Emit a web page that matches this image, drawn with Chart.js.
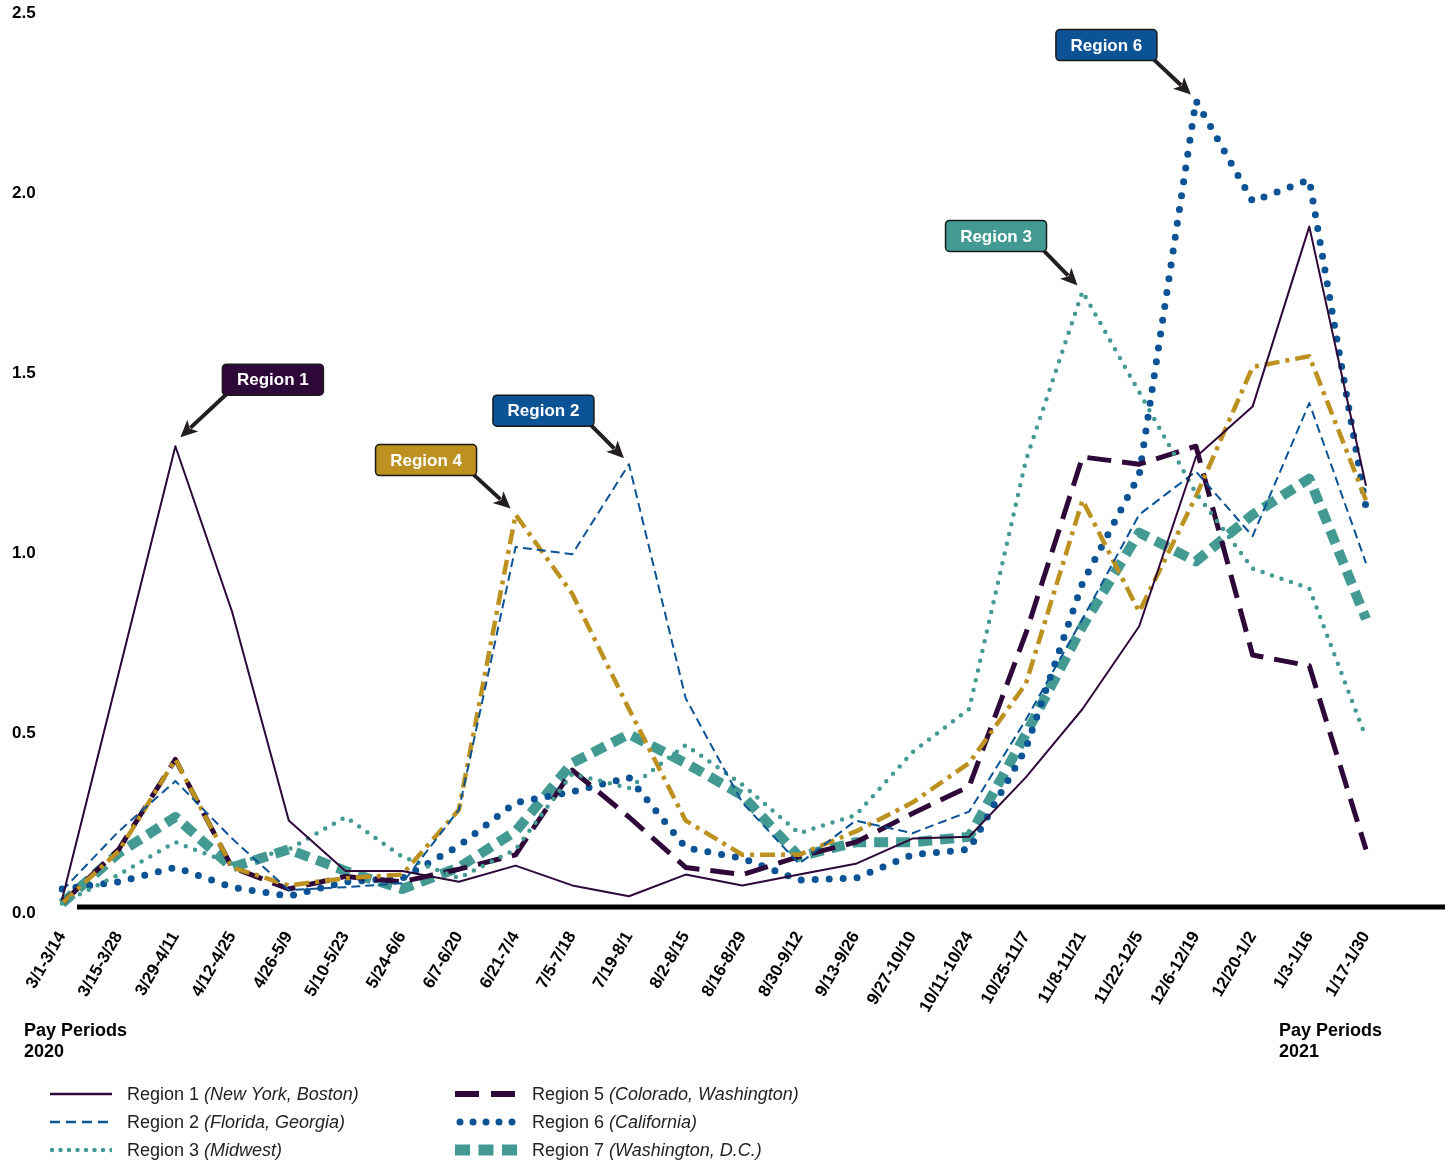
<!DOCTYPE html>
<html>
<head>
<meta charset="utf-8">
<script src="https://cdn.jsdelivr.net/npm/chart.js@4.4.1/dist/chart.umd.min.js"></script>
<style>
  body { margin: 0; background: #fff; font-family: "Liberation Sans", Arial, sans-serif; }
  #wrap { position: relative; width: 1452px; height: 1162px; }
  #wrap canvas { position: absolute; left: 0; top: 0; }
  .pp { position: absolute; font-weight: bold; font-size: 18px; line-height: 21px; color: #000; }
  .leg { position: absolute; height: 20px; font-size: 18px; color: #222; display: flex; align-items: center; white-space: nowrap; }
  .leg svg { margin-right: 15px; }
</style>
</head>
<body>
<div id="wrap">
  <canvas id="myChart" width="1452" height="1162"></canvas>
  <div class="pp" style="left:24px; top:1020px;">Pay Periods<br>2020</div>
  <div class="pp" style="left:1279px; top:1020px;">Pay Periods<br>2021</div>
  <div id="legend"></div>
</div>
<script>
// pay periods (x axis)
var periods = ['3/1-3/14', '3/15-3/28', '3/29-4/11', '4/12-4/25', '4/26-5/9', '5/10-5/23',
  '5/24-6/6', '6/7-6/20', '6/21-7/4', '7/5-7/18', '7/19-8/1', '8/2-8/15', '8/16-8/29',
  '8/30-9/12', '9/13-9/26', '9/27-10/10', '10/11-10/24', '10/25-11/7', '11/8-11/21',
  '11/22-12/5', '12/6-12/19', '12/20-1/2', '1/3-1/16', '1/17-1/30'];

var yTicks = [0, 0.5, 1.0, 1.5, 2.0, 2.5];

var regionNames = ['Region 1', 'Region 2', 'Region 3', 'Region 4', 'Region 5', 'Region 6', 'Region 7'];
var regionPlaces = ['New York, Boston', 'Florida, Georgia', 'Midwest', null, 'Colorado, Washington', 'California', 'Washington, D.C.'];

var region1 = [0.02, 0.65, 1.28, 0.82, 0.24, 0.10, 0.10, 0.07, 0.115, 0.06, 0.03, 0.09, 0.06, 0.09, 0.12, 0.19, 0.195, 0.36, 0.55, 0.78, 1.25, 1.39, 1.89, 1.17];
var region2 = [0.045, 0.21, 0.35, 0.19, 0.047, 0.055, 0.066, 0.27, 1.0, 0.98, 1.23, 0.58, 0.29, 0.12, 0.24, 0.205, 0.265, 0.52, 0.80, 1.09, 1.21, 1.03, 1.40, 0.955];
var region3 = [0.01, 0.09, 0.18, 0.12, 0.16, 0.25, 0.14, 0.08, 0.16, 0.37, 0.33, 0.45, 0.34, 0.205, 0.255, 0.43, 0.55, 1.24, 1.71, 1.43, 1.15, 0.94, 0.885, 0.47];
var region4 = [0.01, 0.155, 0.41, 0.11, 0.06, 0.08, 0.09, 0.27, 1.09, 0.87, 0.55, 0.24, 0.145, 0.145, 0.21, 0.29, 0.40, 0.62, 1.13, 0.82, 1.14, 1.50, 1.53, 1.13];
var region5 = [0.01, 0.16, 0.41, 0.11, 0.05, 0.085, 0.07, 0.105, 0.145, 0.38, 0.25, 0.11, 0.09, 0.14, 0.18, 0.26, 0.335, 0.76, 1.25, 1.23, 1.28, 0.70, 0.67, 0.16];
var region6 = [0.05, 0.07, 0.11, 0.055, 0.03, 0.07, 0.08, 0.17, 0.29, 0.32, 0.36, 0.165, 0.135, 0.075, 0.08, 0.145, 0.16, 0.44, 0.90, 1.20, 2.24, 1.96, 2.02, 1.11];
var region7 = [0.01, 0.15, 0.25, 0.11, 0.16, 0.10, 0.05, 0.11, 0.21, 0.40, 0.48, 0.40, 0.31, 0.14, 0.18, 0.18, 0.195, 0.48, 0.78, 1.04, 0.96, 1.09, 1.19, 0.80];

var PURPLE = '#2e0838';
var BLUE = '#0b5394';
var TEAL = '#429a93';
var GOLD = '#bd911f';
var FONT = '"Liberation Sans", Arial, sans-serif';

// line styles: [color, width, dash, cap]
var styles = [
  [PURPLE, 2, [], 'butt'],
  [BLUE, 2, [9, 5], 'butt'],
  [TEAL, 4.5, [0, 10], 'round'],
  [GOLD, 4.5, [15, 6, 4, 6], 'butt'],
  [PURPLE, 5, [24, 11], 'butt'],
  [BLUE, 7, [0, 14], 'round'],
  [TEAL, 10, [14, 8], 'butt']
];
var series = [region1, region2, region3, region4, region5, region6, region7];

var datasets = series.map(function (d, i) {
  return {
    label: regionNames[i],
    data: d,
    borderColor: styles[i][0],
    borderWidth: styles[i][1],
    borderDash: styles[i][2],
    borderCapStyle: styles[i][3],
    borderJoinStyle: 'round',
    pointRadius: 0,
    tension: 0,
    fill: false
  };
});

// thick black baseline under the data
var baseline = {
  id: 'baseline',
  beforeDatasetsDraw: function (chart) {
    var ctx = chart.ctx, a = chart.chartArea;
    var y = chart.scales.y.getPixelForValue(0);
    ctx.save();
    ctx.strokeStyle = '#000';
    ctx.lineWidth = 5;
    ctx.beginPath();
    ctx.moveTo(a.left + 15, y);
    ctx.lineTo(a.right + 79, y);
    ctx.stroke();
    ctx.restore();
  }
};

// callout boxes with arrows
var callouts = [
  { text: 'Region 1', ds: 0, idx: 2, fill: PURPLE, bx: 47, by: -82, tip: [5, -9], from: 'left' },
  { text: 'Region 4', ds: 3, idx: 8, fill: GOLD, bx: -140, by: -70, tip: [-5, -6], from: 'right' },
  { text: 'Region 2', ds: 1, idx: 10, fill: BLUE, bx: -136, by: -69, tip: [-5, -6], from: 'right' },
  { text: 'Region 3', ds: 2, idx: 18, fill: TEAL, bx: -137, by: -71, tip: [-5, -6], from: 'right' },
  { text: 'Region 6', ds: 5, idx: 20, fill: BLUE, bx: -140, by: -71, tip: [-5, -6], from: 'right' }
];

function drawArrow(ctx, x1, y1, x2, y2) {
  var a = Math.atan2(y2 - y1, x2 - x1);
  var head = 17, hw = 8;
  var c = Math.cos(a), s = Math.sin(a);
  ctx.strokeStyle = '#231f20';
  ctx.fillStyle = '#231f20';
  ctx.lineWidth = 4;
  ctx.beginPath();
  ctx.moveTo(x1, y1);
  ctx.lineTo(x2 - head * c * 0.8, y2 - head * s * 0.8);
  ctx.stroke();
  ctx.beginPath();
  ctx.moveTo(x2, y2);
  ctx.lineTo(x2 - head * c + hw * s, y2 - head * s - hw * c);
  ctx.lineTo(x2 - head * c * 0.75, y2 - head * s * 0.75);
  ctx.lineTo(x2 - head * c - hw * s, y2 - head * s + hw * c);
  ctx.closePath();
  ctx.fill();
}

var annotate = {
  id: 'annotate',
  afterDatasetsDraw: function (chart) {
    var ctx = chart.ctx;
    var xs = chart.scales.x, ys = chart.scales.y;
    ctx.save();
    callouts.forEach(function (c) {
      var px = xs.getPixelForValue(c.idx);
      var py = ys.getPixelForValue(chart.data.datasets[c.ds].data[c.idx]);
      var w = 101, h = 31;
      var bx = px + c.bx, by = py + c.by;
      var sx = c.from === 'left' ? bx + 4 : bx + w - 3;
      drawArrow(ctx, sx, by + h - 1, px + c.tip[0], py + c.tip[1]);
      ctx.beginPath();
      ctx.roundRect(bx, by, w, h, 4);
      ctx.fillStyle = c.fill;
      ctx.fill();
      ctx.lineWidth = 1.5;
      ctx.strokeStyle = '#1a1a1a';
      ctx.stroke();
      ctx.fillStyle = '#fff';
      ctx.font = 'bold 17px ' + FONT;
      ctx.textAlign = 'center';
      ctx.textBaseline = 'middle';
      ctx.fillText(c.text, bx + w / 2, by + h / 2 + 1);
    });
    ctx.restore();
  }
};

var ctx = document.getElementById('myChart').getContext('2d');
var myChart = new Chart(ctx, {
  type: 'line',
  data: { labels: periods, datasets: datasets },
  plugins: [baseline, annotate],
  options: {
    responsive: false,
    animation: false,
    layout: { padding: { top: 7, right: 86, bottom: 0, left: 12 } },
    plugins: {
      legend: { display: false },
      tooltip: { enabled: false }
    },
    scales: {
      x: {
        offset: false,
        grid: { display: false, drawTicks: false },
        border: { display: false },
        afterFit: function (s) { s.height = 255; },
        ticks: {
          autoSkip: false,
          maxRotation: 60,
          minRotation: 60,
          padding: 21,
          color: '#000',
          font: { family: FONT, size: 17, weight: 'bold' }
        }
      },
      y: {
        min: 0,
        max: 2.5,
        afterFit: function (s) { s.width = 50; },
        afterBuildTicks: function (s) { s.ticks = yTicks.map(function (v) { return { value: v }; }); },
        grid: { display: false, drawTicks: false },
        border: { display: false },
        ticks: {
          padding: 0,
          crossAlign: 'far',
          labelOffset: 6,
          color: '#000',
          font: { family: FONT, size: 17, weight: 'bold', lineHeight: 0.8 },
          callback: function (v) { return Number(v).toFixed(1); }
        }
      }
    }
  }
});

// legend with italic place names
var legendPos = [[50, 1084], [50, 1112], [50, 1140], null, [455, 1084], [455, 1112], [455, 1140]];
var swatches = [
  '<line x1="0" y1="10" x2="62" y2="10" stroke="' + PURPLE + '" stroke-width="2.5"/>',
  '<line x1="0" y1="10" x2="62" y2="10" stroke="' + BLUE + '" stroke-width="2.5" stroke-dasharray="10 6"/>',
  '<line x1="2" y1="10" x2="62" y2="10" stroke="' + TEAL + '" stroke-width="4.5" stroke-linecap="round" stroke-dasharray="0 8.5"/>',
  null,
  '<line x1="0" y1="10" x2="62" y2="10" stroke="' + PURPLE + '" stroke-width="6" stroke-dasharray="24 12"/>',
  '<line x1="5" y1="10" x2="60" y2="10" stroke="' + BLUE + '" stroke-width="7" stroke-linecap="round" stroke-dasharray="0 13"/>',
  '<line x1="0" y1="10" x2="62" y2="10" stroke="' + TEAL + '" stroke-width="11" stroke-dasharray="15 8.5"/>'
];
var legendHtml = '';
regionNames.forEach(function (n, i) {
  if (!legendPos[i]) return;
  legendHtml += '<div class="leg" style="left:' + legendPos[i][0] + 'px; top:' + legendPos[i][1] + 'px;">' +
    '<svg width="62" height="20">' + swatches[i] + '</svg>' +
    '<span>' + n + ' <i>(' + regionPlaces[i] + ')</i></span></div>';
});
document.getElementById('legend').innerHTML = legendHtml;
</script>
</body>
</html>
